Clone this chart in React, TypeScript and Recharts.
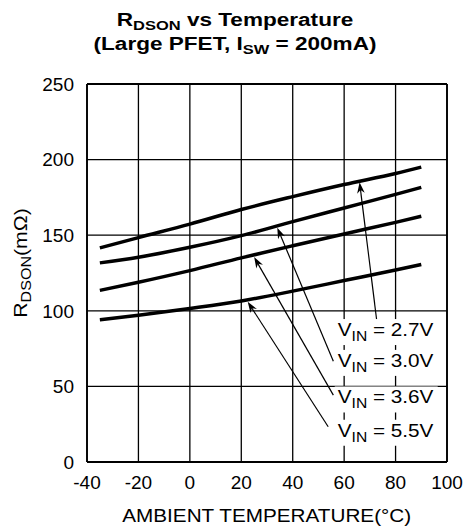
import React from 'react';
import { LineChart, Line, XAxis, YAxis, CartesianGrid, ReferenceLine, ReferenceDot } from 'recharts';

// temperature points (°C) at which the curves are read
const temps = [-35, -20, 0, 20, 40, 60, 80, 90];

// RDSON (mΩ) per input voltage
const rds27 = [141.6, 148.4, 157.3, 167, 175.5, 183.5, 190.8, 195];
const rds30 = [131.7, 135.4, 142, 149.7, 159, 168, 177, 181.6];
const rds36 = [113.5, 118.9, 126.6, 135, 143, 150.8, 158.5, 162.5];
const rds55 = [94, 97, 101.5, 106.5, 113, 120, 127, 130.6];

const xTicks = [-40, -20, 0, 20, 40, 60, 80, 100];
const yTicks = [0, 50, 100, 150, 200, 250];

// callouts: text, arrow head on the curve, arrow tail, label anchor (data units)
const calloutText = ['2.7V', '3.0V', '3.6V', '5.5V'];
const arrowHead = [
  { x: 66, y: 185 },
  { x: 34, y: 155 },
  { x: 25, y: 135.5 },
  { x: 22.5, y: 106 },
];
const arrowTail = [
  { x: 72.7, y: 93.2 },
  { x: 55.8, y: 66.6 },
  { x: 55.8, y: 44.2 },
  { x: 53.8, y: 23.3 },
];
const labelAt = [
  { x: 57.5, y: 83.3 },
  { x: 57.5, y: 62.9 },
  { x: 57.5, y: 38.7 },
  { x: 57.5, y: 16.7 },
];

const FONT = '"Liberation Sans", Arial, Helvetica, sans-serif';

const series = [rds27, rds30, rds36, rds55].map((vals) =>
  temps.map((t, i) => ({ t, r: vals[i] }))
);

const Arrow = (props: any) => {
  const { x1, y1, x2, y2 } = props;
  const dx = x2 - x1;
  const dy = y2 - y1;
  const len = Math.hypot(dx, dy) || 1;
  const ux = dx / len;
  const uy = dy / len;
  const L = 11;
  const W = 3.8;
  const bx = x2 - ux * L;
  const by = y2 - uy * L;
  const nx = -uy;
  const ny = ux;
  const pts = `${x2},${y2} ${bx + nx * W},${by + ny * W} ${x2 - ux * L * 0.7},${y2 - uy * L * 0.7} ${bx - nx * W},${by - ny * W}`;
  return (
    <g>
      <line x1={x1} y1={y1} x2={x2 - ux * L * 0.6} y2={y2 - uy * L * 0.6} stroke="#000" strokeWidth={1.2} />
      <polygon points={pts} fill="#000" />
    </g>
  );
};

const makeLabel = (text: string) => (props: any) => {
  const { cx, cy } = props;
  return (
    <g>
      <rect x={cx - 3} y={cy - 17} width={103} height={26} fill="#fff" />
      <text
        transform={`translate(${cx},${cy}) scale(1.12,1)`}
        fontSize={18.5}
        fontFamily={FONT}
        fill="#000"
      >
        V
        <tspan dy={5} fontSize={14}>IN</tspan>
        <tspan dy={-5}>{` = ${text}`}</tspan>
      </text>
    </g>
  );
};

export default function App() {
  return (
    <div style={{ position: 'absolute', left: 0, top: 0, width: 465, height: 527, background: '#fff' }}>
      <LineChart
        width={465}
        height={527}
        margin={{ top: 84, right: 18, bottom: 0, left: 0 }}
      >
        <CartesianGrid stroke="#000" strokeWidth={1.3} />
        <XAxis
          dataKey="t"
          type="number"
          domain={[-40, 100]}
          ticks={xTicks}
          allowDataOverflow
          height={65}
          stroke="#000"
          strokeWidth={1.8}
          tickLine={false}
          tickSize={6}
          tickMargin={8}
          tick={{ fill: '#000', fontSize: 19, fontFamily: FONT }}
        />
        <YAxis
          type="number"
          domain={[0, 250]}
          ticks={yTicks}
          allowDataOverflow
          width={87}
          stroke="#000"
          strokeWidth={1.8}
          tickLine={false}
          tickSize={6}
          tickMargin={7}
          tick={{ fill: '#000', fontSize: 19, fontFamily: FONT }}
        />
        <ReferenceLine y={250} stroke="#000" strokeWidth={1.8} />
        <ReferenceLine x={100} stroke="#000" strokeWidth={1.8} />
        {series.map((d, i) => (
          <Line
            key={i}
            data={d}
            dataKey="r"
            type="monotone"
            stroke="#000"
            strokeWidth={3.5}
            dot={false}
            isAnimationActive={false}
          />
        ))}
        {calloutText.map((txt, i) => (
          <ReferenceDot
            key={`lbl-${i}`}
            x={labelAt[i].x}
            y={labelAt[i].y}
            r={1}
            shape={makeLabel(txt)}
          />
        ))}
        {calloutText.map((txt, i) => (
          <ReferenceLine
            key={`arr-${i}`}
            segment={[arrowTail[i], arrowHead[i]]}
            shape={Arrow}
          />
        ))}
      </LineChart>
      <svg
        width={465}
        height={527}
        style={{ position: 'absolute', left: 0, top: 0, pointerEvents: 'none' }}
      >
        <g fontFamily={FONT} fill="#000">
          <text transform="translate(235,26) scale(1.22,1)" textAnchor="middle" fontSize={18.5} fontWeight="bold">
            R<tspan dy={4} fontSize={13.5}>DSON</tspan>
            <tspan dy={-4}> vs Temperature</tspan>
          </text>
          <text transform="translate(235,50) scale(1.22,1)" textAnchor="middle" fontSize={18.5} fontWeight="bold">
            (Large PFET, I<tspan dy={4} fontSize={13.5}>SW</tspan>
            <tspan dy={-4}> = 200mA)</tspan>
          </text>
          <text transform="translate(27,263) rotate(-90) scale(1.15,1)" textAnchor="middle" fontSize={18.5}>
            R<tspan dy={4} fontSize={14}>DSON</tspan>
            <tspan dy={-4}>(mΩ)</tspan>
          </text>
          <text transform="translate(266.7,521.5) scale(1.12,1)" textAnchor="middle" fontSize={18.5}>
            AMBIENT TEMPERATURE(°C)
          </text>
        </g>
      </svg>
    </div>
  );
}
